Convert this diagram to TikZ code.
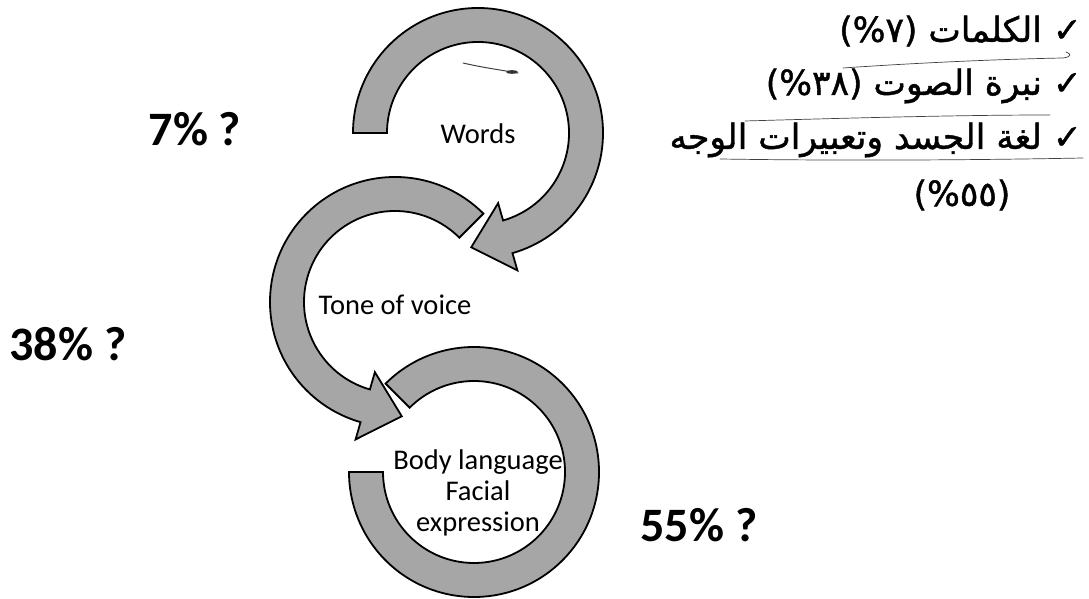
\documentclass[tikz,border=0pt]{standalone}
\usepackage{fontspec}
\setmainfont{Carlito}
\newfontfamily\arabicfont[Script=Arabic,FakeBold=1.2]{DejaVu Sans}
\newfontfamily\parfont[FakeBold=1.2]{DejaVu Sans}
\TeXXeTstate=1
\usetikzlibrary{calc}
\definecolor{arrowgray}{HTML}{A6A6A6}
\newcommand{\arpar}[1]{\mbox{\parfont(}\mbox{\%}\mbox{#1}\mbox{\parfont)}}
\tikzset{
  ringarrow/.style={draw=black, line width=1.8pt, fill=arrowgray, line join=miter},
  inlabel/.style={font=\fontsize{28.5}{31}\selectfont, align=center, inner sep=0pt},
  pctlabel/.style={font=\fontsize{48}{50}\selectfont\bfseries, inner sep=0pt},
  artext/.style={font=\fontsize{34.5}{38}\selectfont\arabicfont, anchor=east, inner sep=0pt},
  penmark/.style={draw=black!75, line width=0.7pt, line cap=round}
}
\begin{document}
\begin{tikzpicture}[x=1pt,y=1pt]
\useasboundingbox (0,0) rectangle (1089,599);
% ring 1 : Words
\begin{scope}[shift={(478,466)}]
  \path[ringarrow] (180:125) arc[start angle=180, end angle=-74, radius=125]
    -- (-74:143) -- ($(-74:108)+(-164:38)$) -- (-74:73) -- (-74:91)
    arc[start angle=-74, end angle=180, radius=91] -- cycle;
\end{scope}
% ring 2 : Tone of voice
\begin{scope}[shift={(395,297)}]
  \path[ringarrow] (45:91) -- (45:125) arc[start angle=45, end angle=254, radius=125]
    -- (254:143) -- ($(254:108)+(344:38)$) -- (254:73) -- (254:91)
    arc[start angle=254, end angle=45, radius=91] -- cycle;
\end{scope}
% ring 3 : Body language
\begin{scope}[shift={(474,127)}]
  \path[ringarrow] (135:125) arc[start angle=135, end angle=-180, radius=125]
    -- (180:91) arc[start angle=-180, end angle=135, radius=91] -- cycle;
\end{scope}
% labels in rings
\node[inlabel] (words) at (478,465) {Words};
\node[inlabel] (tone) at (395,294) {Tone of voice};
\node[inlabel] (body) at (478,106) {Body language\\Facial\\expression};
% percentage labels
\node[pctlabel] (p7) at (195,470) {7\% ?};
\node[pctlabel] (p38) at (68,255) {38\% ?};
\node[pctlabel] (p55) at (699,74) {55\% ?};
% arabic list
\node[artext] (ar1) at (1082,568) {\arpar{٧} \beginR الكلمات\endR{} ✓};
\node[artext] (ar2) at (1082,513) {\arpar{٣٨} \beginR نبرة الصوت\endR{} ✓};
\node[artext] (ar3) at (1082,459) {\beginR لغة الجسد وتعبيرات الوجه\endR{} ✓};
\node[font=\fontsize{34.5}{38}\selectfont\arabicfont, inner sep=0pt] (ar4) at (962,404) {\arpar{٥٥}};
% pen marks
\draw[penmark] (843,531) .. controls (930,537) and (1010,540) .. (1063,541)
  .. controls (1071,542) and (1072,545) .. (1066,547);
\draw[penmark] (745,478) .. controls (850,481) and (960,484) .. (1050,484);
\draw[penmark] (720,440) .. controls (850,438) and (980,439) .. (1083,441);
\draw[penmark, line width=1pt] (463,536) .. controls (480,532) and (500,529) .. (518,526);
\fill[black!80] (512,527) ellipse (6 and 1.8);
\end{tikzpicture}
\end{document}
